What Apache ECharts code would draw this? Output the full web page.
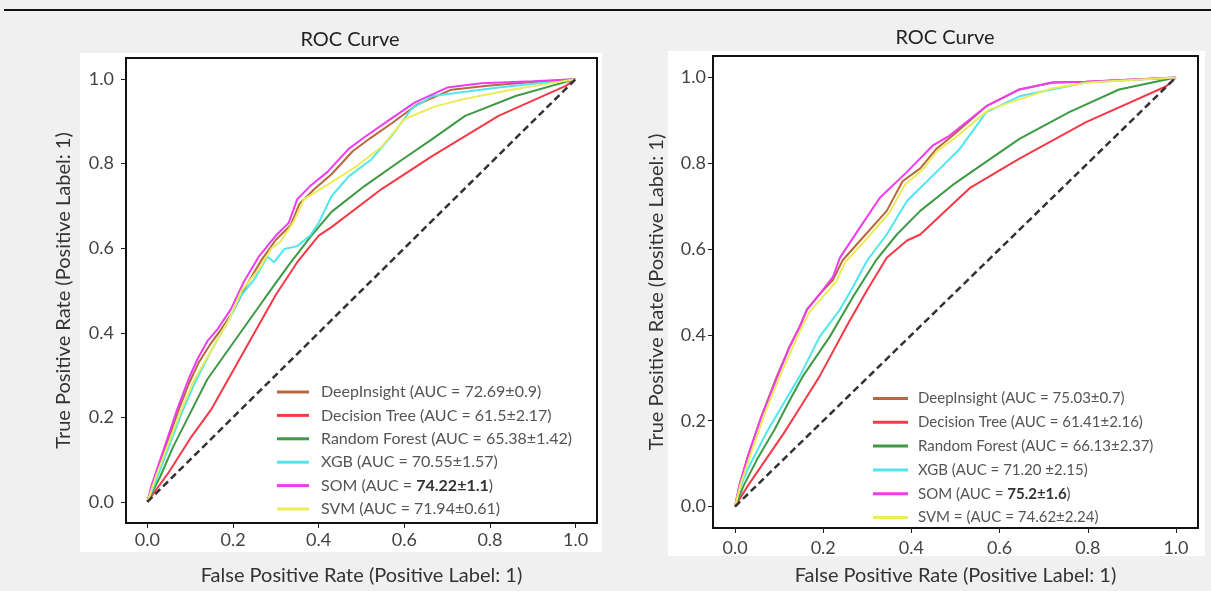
<!DOCTYPE html>
<html>
<head>
<meta charset="utf-8">
<script src="https://cdn.jsdelivr.net/npm/echarts@6/dist/echarts.min.js"></script>
<style>
  html, body { margin: 0; padding: 0; background: #f0f0f0; }
  #chart { width: 1211px; height: 591px; }
</style>
</head>
<body>
<div id="chart"></div>
<script>
// Tick positions shared by both panels
const tickValues = [0, 0.2, 0.4, 0.6, 0.8, 1.0];
const chanceLine = [[0, 0], [1, 1]];

// Legend labels for each panel
const labelsA = [
  'DeepInsight (AUC = 72.69±0.9)',
  'Decision Tree (AUC = 61.5±2.17)',
  'Random Forest (AUC = 65.38±1.42)',
  'XGB (AUC = 70.55±1.57)',
  'SOM (AUC = 74.22±1.1)',
  'SVM (AUC = 71.94±0.61)'
];
const labelsB = [
  'DeepInsight (AUC = 75.03±0.7)',
  'Decision Tree (AUC = 61.41±2.16)',
  'Random Forest (AUC = 66.13±2.37)',
  'XGB (AUC = 71.20 ±2.15)',
  'SOM (AUC = 75.2±1.6)',
  'SVM = (AUC = 74.62±2.24)'
];
// Best AUC value, printed in bold inside the legend
const boldA = '74.22±1.1';
const boldB = '75.2±1.6';

// ---- Left panel ROC points [FPR, TPR] ----
const deepA = [[0,0],[0.01,0.035],[0.03,0.09],[0.05,0.15],[0.07,0.21],[0.097,0.28],[0.12,0.33],[0.145,0.37],[0.17,0.405],[0.2,0.45],[0.23,0.51],[0.265,0.57],[0.3,0.62],[0.335,0.655],[0.355,0.705],[0.39,0.74],[0.43,0.775],[0.48,0.83],[0.52,0.86],[0.57,0.895],[0.63,0.94],[0.71,0.975],[0.8,0.985],[0.9,0.993],[1,1]];
const treeA = [[0,0],[0.05,0.07],[0.1,0.15],[0.15,0.22],[0.2,0.31],[0.25,0.4],[0.3,0.49],[0.35,0.567],[0.4,0.63],[0.43,0.65],[0.547,0.74],[0.665,0.818],[0.82,0.913],[0.977,0.984],[1,1]];
const forestA = [[0,0],[0.03,0.06],[0.06,0.13],[0.1,0.21],[0.14,0.29],[0.21,0.39],[0.273,0.48],[0.33,0.56],[0.383,0.63],[0.43,0.686],[0.507,0.747],[0.587,0.804],[0.665,0.858],[0.742,0.913],[0.86,0.96],[1,1]];
const xgbA = [[0,0],[0.02,0.05],[0.05,0.13],[0.08,0.21],[0.11,0.28],[0.15,0.36],[0.19,0.43],[0.218,0.487],[0.25,0.527],[0.28,0.58],[0.296,0.567],[0.32,0.598],[0.35,0.605],[0.38,0.63],[0.4,0.66],[0.43,0.723],[0.47,0.77],[0.523,0.81],[0.57,0.865],[0.617,0.93],[0.665,0.96],[0.82,0.98],[1,1]];
const somA = [[0,0],[0.01,0.04],[0.03,0.1],[0.05,0.16],[0.07,0.22],[0.096,0.29],[0.117,0.338],[0.14,0.38],[0.165,0.41],[0.195,0.456],[0.225,0.52],[0.26,0.58],[0.3,0.63],[0.33,0.66],[0.35,0.716],[0.38,0.747],[0.42,0.78],[0.47,0.835],[0.51,0.865],[0.56,0.9],[0.625,0.945],[0.7,0.98],[0.78,0.99],[0.9,0.995],[1,1]];
const svmA = [[0,0],[0.02,0.06],[0.05,0.14],[0.08,0.22],[0.11,0.29],[0.15,0.36],[0.19,0.43],[0.22,0.5],[0.26,0.55],[0.29,0.6],[0.31,0.615],[0.32,0.63],[0.34,0.66],[0.366,0.716],[0.43,0.756],[0.49,0.795],[0.547,0.84],[0.6,0.905],[0.67,0.935],[0.74,0.953],[0.85,0.975],[1,1]];

// ---- Right panel ROC points [FPR, TPR] ----
const deepB = [[0,0],[0.01,0.05],[0.03,0.12],[0.06,0.21],[0.095,0.304],[0.124,0.373],[0.147,0.42],[0.163,0.459],[0.192,0.495],[0.222,0.528],[0.244,0.574],[0.29,0.627],[0.344,0.689],[0.38,0.758],[0.42,0.788],[0.457,0.834],[0.493,0.864],[0.57,0.933],[0.645,0.972],[0.72,0.988],[0.796,0.99],[1,1]];
const treeB = [[0,0],[0.03,0.05],[0.07,0.11],[0.11,0.17],[0.15,0.235],[0.192,0.304],[0.253,0.42],[0.3,0.505],[0.344,0.58],[0.39,0.62],[0.42,0.634],[0.532,0.742],[0.645,0.811],[0.796,0.896],[0.977,0.979],[1,1]];
const forestB = [[0,0],[0.02,0.05],[0.05,0.11],[0.09,0.18],[0.12,0.24],[0.154,0.304],[0.215,0.396],[0.267,0.488],[0.32,0.574],[0.367,0.634],[0.42,0.689],[0.493,0.749],[0.57,0.804],[0.645,0.857],[0.758,0.919],[0.871,0.972],[1,1]];
const xgbB = [[0,0],[0.01,0.04],[0.03,0.09],[0.07,0.17],[0.11,0.24],[0.147,0.304],[0.192,0.396],[0.238,0.459],[0.267,0.511],[0.3,0.574],[0.344,0.634],[0.39,0.712],[0.457,0.78],[0.51,0.834],[0.57,0.919],[0.645,0.956],[0.796,0.988],[1,1]];
const somB = [[0,0],[0.01,0.05],[0.03,0.12],[0.06,0.21],[0.095,0.3],[0.124,0.373],[0.147,0.42],[0.163,0.459],[0.192,0.495],[0.222,0.535],[0.238,0.58],[0.283,0.65],[0.328,0.719],[0.39,0.78],[0.448,0.841],[0.486,0.864],[0.57,0.933],[0.645,0.972],[0.72,0.988],[0.796,0.99],[1,1]];
const svmB = [[0,0],[0.012,0.05],[0.035,0.12],[0.065,0.21],[0.1,0.3],[0.13,0.37],[0.15,0.415],[0.17,0.455],[0.2,0.49],[0.23,0.525],[0.25,0.57],[0.295,0.62],[0.35,0.685],[0.385,0.75],[0.425,0.785],[0.46,0.83],[0.5,0.86],[0.575,0.925],[0.645,0.949],[0.72,0.975],[0.8,0.988],[1,1]];

const curvesA = [deepA, treeA, forestA, xgbA, somA, svmA];
const curvesB = [deepB, treeB, forestB, xgbB, somB, svmB];
const colors = ['#b8683f', '#f23a48', '#3e9a44', '#4fe6ee', '#ee3cee', '#ecec5a'];

const FONT = 'Lato, "Open Sans", sans-serif';
const chart = echarts.init(document.getElementById('chart'));

function axisPair(gridIndex, xName, yName, gaps) {
  const common = {
    type: 'value', gridIndex, min: -0.05, max: 1.05,
    axisLine: { show: false, onZero: false },
    splitLine: { show: false },
    axisTick: { show: true, length: 5, customValues: tickValues, lineStyle: { color: '#222', width: 1 } },
    nameLocation: 'middle',
    nameTextStyle: { fontFamily: FONT, fontSize: 20, color: '#333' }
  };
  return {
    x: Object.assign({}, common, {
      name: xName, nameGap: gaps.x,
      axisLabel: { customValues: tickValues, margin: gaps.xl, fontFamily: FONT, fontSize: 18, color: '#444',
        formatter: v => v.toFixed(1) }
    }),
    y: Object.assign({}, common, {
      name: yName, nameGap: gaps.y,
      axisLabel: { customValues: tickValues, margin: gaps.yl, fontFamily: FONT, fontSize: 18, color: '#444',
        formatter: v => v.toFixed(1) }
    })
  };
}

const XNAME = 'False Positive Rate (Positive Label: 1)';
const YNAME = 'True Positive Rate (Positive Label: 1)';
const axA = axisPair(0, XNAME, YNAME, { x: 43, y: 52, xl: 8, yl: 12 });
const axB = axisPair(1, XNAME, YNAME, { x: 38, y: 46, xl: 11, yl: 7 });

function buildSeries(labels, curves, idx) {
  const out = labels.map((name, i) => ({
    name, type: 'line', xAxisIndex: idx, yAxisIndex: idx,
    data: curves[i], showSymbol: false, symbol: 'none',
    lineStyle: { color: colors[i], width: 2 }, itemStyle: { color: colors[i] },
    z: 3 + i, animation: false
  }));
  out.push({
    name: 'chance-' + idx, type: 'line', xAxisIndex: idx, yAxisIndex: idx,
    data: chanceLine, showSymbol: false, symbol: 'none',
    lineStyle: { color: '#333', width: 2.5, type: [7, 4] }, z: 10, animation: false
  });
  return out;
}

function legendFor(labels, bold, cfg) {
  return {
    orient: 'vertical', left: cfg.left, top: cfg.top,
    data: labels, icon: 'rect', itemWidth: cfg.w, itemHeight: 3, itemGap: cfg.gap,
    selectedMode: false,
    textStyle: {
      fontFamily: FONT, fontSize: cfg.fs, color: '#555', lineHeight: cfg.fs, padding: [0, 0, 0, cfg.pad],
      rich: { b: { fontFamily: FONT, fontSize: cfg.fs, fontWeight: 'bold', color: '#333' } }
    },
    formatter: name => name.includes(bold) ? name.replace(bold, '{b|' + bold + '}') : name
  };
}

const titleStyle = { fontFamily: FONT, fontSize: 20, fontWeight: 'normal', color: '#222' };

const option = {
  backgroundColor: '#f0f0f0',
  animation: false,
  title: [
    { text: 'ROC Curve', left: 345, top: 25, textAlign: 'center', textStyle: titleStyle },
    { text: 'ROC Curve', left: 940, top: 23, textAlign: 'center', textStyle: titleStyle }
  ],
  graphic: [
    { type: 'line', shape: { x1: 4, y1: 10, x2: 1211, y2: 10 }, style: { stroke: '#111', lineWidth: 2 }, z: -5 },
    { type: 'rect', shape: { x: 80, y: 53, width: 522, height: 499 }, style: { fill: '#fff' }, z: -10 },
    { type: 'rect', shape: { x: 668, y: 51, width: 537, height: 505 }, style: { fill: '#fff' }, z: -10 }
  ],
  grid: [
    { left: 126, top: 58, width: 471, height: 467, show: true, backgroundColor: '#fff', borderColor: '#111', borderWidth: 2 },
    { left: 713, top: 56, width: 485, height: 478, show: true, backgroundColor: '#fff', borderColor: '#111', borderWidth: 2 }
  ],
  xAxis: [axA.x, axB.x],
  yAxis: [axA.y, axB.y],
  legend: [
    legendFor(labelsA, boldA, { left: 272, top: 379, w: 32, gap: 7.4, fs: 16, pad: 7 }),
    legendFor(labelsB, boldB, { left: 868, top: 386, w: 35, gap: 8.8, fs: 15, pad: 5 })
  ],
  series: buildSeries(labelsA, curvesA, 0).concat(buildSeries(labelsB, curvesB, 1))
};

chart.setOption(option);
</script>
</body>
</html>
